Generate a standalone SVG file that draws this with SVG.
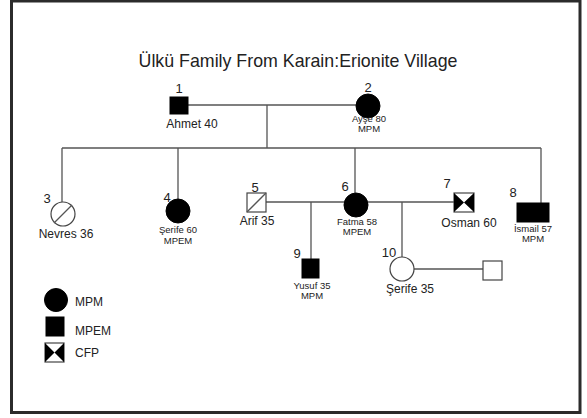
<svg xmlns="http://www.w3.org/2000/svg" width="587" height="418" viewBox="0 0 587 418">
<style>
.t{font-family:"Liberation Sans",Arial,sans-serif;fill:#222}
.n{font-size:13px;text-anchor:middle}
.l{font-size:12px;text-anchor:middle}
.s{font-size:9.5px;text-anchor:middle}
.lg{font-size:12px}
.ln{stroke:#555;stroke-width:1.3;fill:none}
.f{fill:#000;stroke:#000;stroke-width:1}
.o{fill:#fff;stroke:#444;stroke-width:1.2}
</style>
<rect x="0" y="0" width="587" height="418" fill="#fff"/>
<rect x="11.5" y="1" width="568.5" height="411.5" fill="none" stroke="#2b2b2b" stroke-width="3"/>
<text class="t" x="298" y="67" font-size="17.8" text-anchor="middle">Ülkü Family From Karain:Erionite Village</text>
<g id="connectors">
<path class="ln" d="M188 105H357M267 105V148M62 148H541M62 148V202M178 148V199M355 148V193M541 148V203M266 202H344M368 202H454M311 202V259M402 202V257M414 269H483"/>
</g>
<g id="n1"><rect class="f" x="170" y="97" width="18" height="17"/><text class="t n" x="179" y="93">1</text><text class="t l" x="192" y="128">Ahmet 40</text></g>
<g id="n2"><circle class="f" cx="368" cy="106" r="12"/><text class="t n" x="368" y="92">2</text><text class="t s" x="369" y="122">Ayşe 80</text><text class="t s" x="369" y="131.5">MPM</text></g>
<g id="n3"><circle class="o" cx="63" cy="214" r="12"/><line class="ln" x1="54" y1="223" x2="72" y2="205"/><text class="t n" x="47" y="203">3</text><text class="t l" x="66" y="238">Nevres 36</text></g>
<g id="n4"><circle class="f" cx="178" cy="211" r="12"/><text class="t n" x="167" y="202">4</text><text class="t s" x="178" y="233">Şerife 60</text><text class="t s" x="178" y="244">MPEM</text></g>
<g id="n5"><rect class="o" x="247" y="193" width="19" height="19"/><line class="ln" x1="247" y1="212" x2="266" y2="193"/><text class="t n" x="255" y="192">5</text><text class="t l" x="257" y="225">Arif 35</text></g>
<g id="n6"><circle class="f" cx="356" cy="205" r="12"/><text class="t n" x="345" y="191">6</text><text class="t s" x="357" y="225">Fatma 58</text><text class="t s" x="357" y="235">MPEM</text></g>
<g id="n7"><rect class="o" x="454" y="193" width="20" height="19"/><path d="M454 193L464 202.5L454 212ZM474 193L464 202.5L474 212Z" fill="#000"/><text class="t n" x="447" y="188">7</text><text class="t l" x="469" y="227">Osman 60</text></g>
<g id="n8"><rect class="f" x="517" y="203" width="32" height="19"/><text class="t n" x="513" y="197">8</text><text class="t s" x="533" y="232">İsmail 57</text><text class="t s" x="533" y="242">MPM</text></g>
<g id="n9"><rect class="f" x="302" y="259" width="17" height="19"/><text class="t n" x="297" y="258">9</text><text class="t s" x="312" y="289">Yusuf 35</text><text class="t s" x="312" y="299">MPM</text></g>
<g id="n10"><circle class="o" cx="402" cy="269" r="12"/><text class="t n" x="389" y="257">10</text><text class="t l" x="410" y="293">Şerife 35</text></g>
<g id="n11"><rect class="o" x="483" y="261" width="19" height="19"/></g>
<g id="legend">
<circle class="f" cx="56" cy="300" r="11.5"/><text class="t lg" x="75" y="306">MPM</text>
<rect class="f" x="46" y="317" width="18" height="19"/><text class="t lg" x="75" y="335">MPEM</text>
<rect class="o" x="45" y="343" width="19" height="19"/><path d="M45 343L54.5 352.5L45 362ZM64 343L54.5 352.5L64 362Z" fill="#000"/><text class="t lg" x="75" y="357">CFP</text>
</g>
</svg>
